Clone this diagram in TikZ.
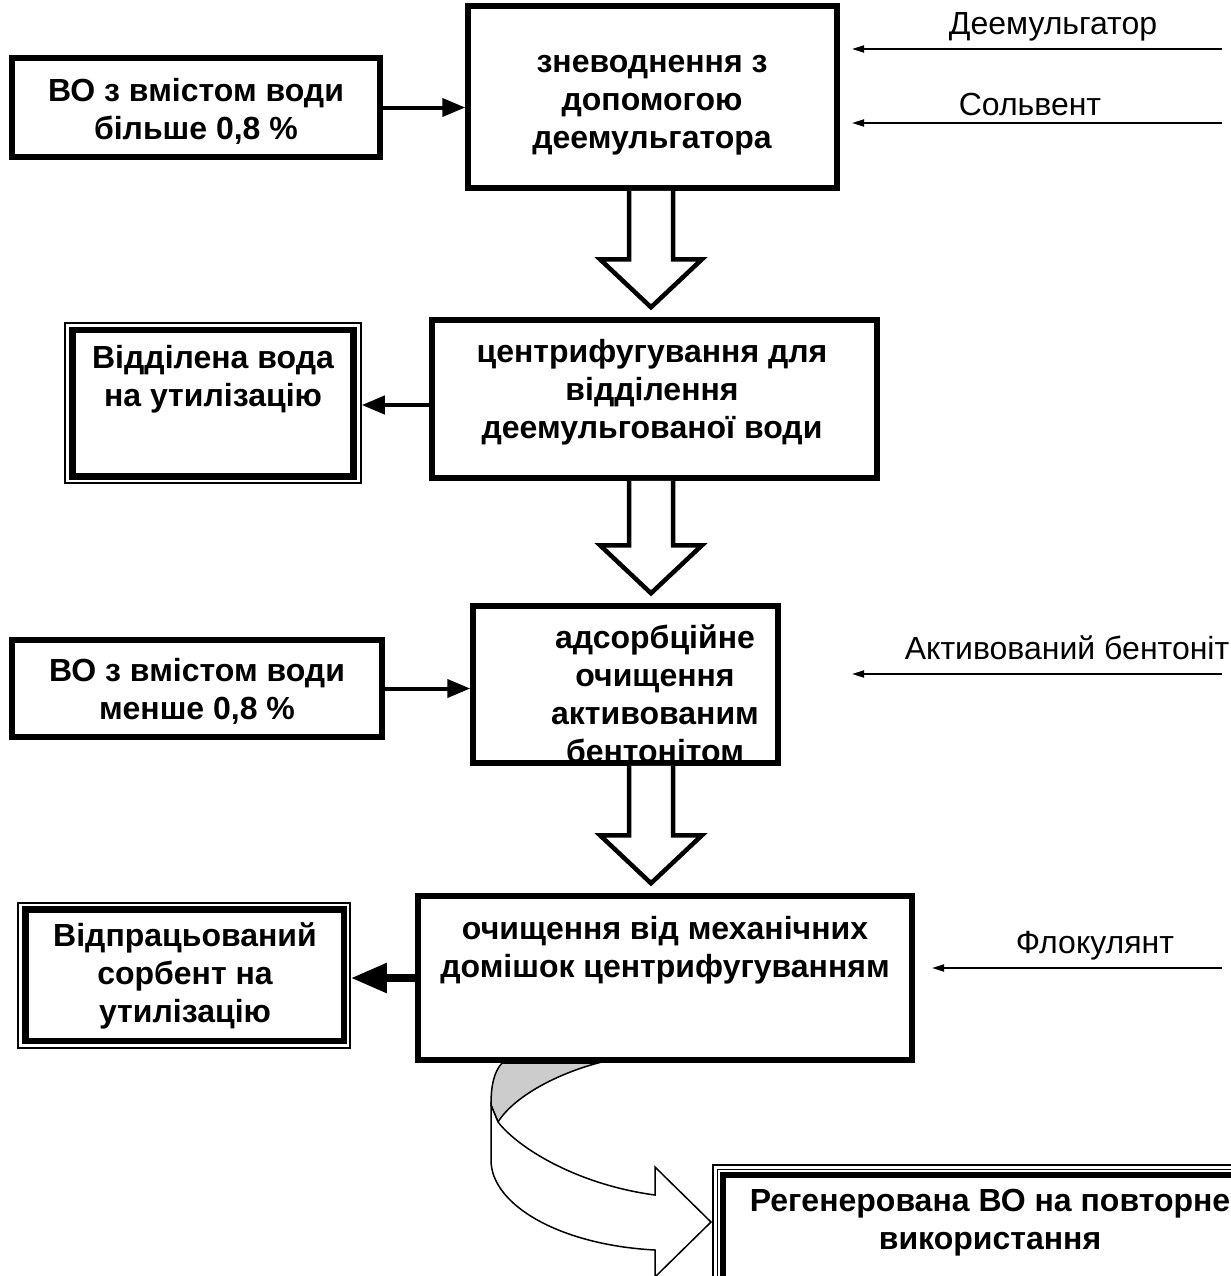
\documentclass[tikz,border=0pt]{standalone}
\usepackage{fontspec}
\setmainfont{Liberation Sans}
\usetikzlibrary{fit,calc,arrows.meta}

\tikzset{
  procbox/.style={draw, line width=2.75pt, inner sep=0pt},
  outframe/.style={draw, line width=0.75pt, inner sep=0pt},
  inframe/.style={draw, line width=3.25pt, inner sep=0pt},
  boxtext/.style={font=\bfseries\fontsize{16}{19}\selectfont, align=center, inner sep=0pt},
  feedtext/.style={font=\fontsize{16}{19}\selectfont, inner sep=0pt},
  flow/.style={-{Triangle[length=11.5pt,width=9pt]}, line width=2pt},
  bigflow/.style={-{Triangle[length=18pt,width=14pt]}, line width=4pt},
  feed/.style={-{Triangle[length=6pt,width=3.5pt]}, line width=0.9pt},
  hollow/.style={draw, fill=white, line width=2.25pt},
  ribbon/.style={draw, line width=0.75pt}
}

\begin{document}
\begin{tikzpicture}[x=0.5pt, y=-0.5pt]
	\useasboundingbox (0,0) rectangle (1231,1276);
	
	%input boxes
	\node[procbox, fit={(12,58) (380,157)}] (wetoil) {};
	\node[boxtext] (wetoiltxt) at (196,111) {ВО з вмістом води\\більше 0,8 \%};
	\node[procbox, fit={(12,640) (382,737)}] (dryoil) {};
	\node[boxtext] (dryoiltxt) at (197,691) {ВО з вмістом води\\менше 0,8 \%};
	
	%process boxes
	\node[procbox, fit={(468,6) (837,188)}] (dewater) {};
	\node[boxtext] (dewatertxt) at (652,105) {зневоднення з\\допомогою\\деемульгатора};
	\node[procbox, fit={(432,320) (877,478)}] (centrif) {};
	\node[boxtext] (centriftxt) at (652,392) {центрифугування для\\відділення\\деемульгованої води};
	\node[procbox, fit={(473,606) (778,763)}] (adsorb) {};
	\node[boxtext] (adsorbtxt) at (655,694) {адсорбційне\\очищення\\активованим\\бентонітом};
	\node[procbox, fit={(418,896) (912,1060)}] (mechcl) {};
	\node[boxtext] (mechcltxt) at (665,950) {очищення від механічних\\домішок центрифугуванням};
	
	%output boxes
	\node[outframe, fit={(65,323) (361,483)}] (waterout) {};
	\node[inframe, fit={(72.5,330) (353.5,476.5)}] (water) {};
	\node[boxtext] (watertxt) at (213,379) {Відділена вода\\на утилізацію};
	\node[outframe, fit={(18,903) (350,1048)}] (sorbout) {};
	\node[inframe, fit={(25.5,909.5) (344,1041)}] (sorb) {};
	\node[boxtext] (sorbtxt) at (185,976) {Відпрацьований\\сорбент на\\утилізацію};
	\node[draw, line width=1.25pt, inner sep=0pt, fit={(713,1165) (1268,1300)}] (regenout) {};
	\node[outframe, fit={(717.5,1169.5) (1263.5,1295.5)}] (regenmid) {};
	\node[inframe, fit={(723,1175) (1258,1290)}] (regen) {};
	\node[boxtext] (regentxt) at (990,1223) {Регенерована ВО на повторне\\використання};
	
	%reagents
	\node[feedtext] (demlbl) at (1053,27) {Деемульгатор};
	\coordinate (demsrc) at (1222,49);
	\coordinate (demend) at (852,49);
	\node[feedtext] (sollbl) at (1030,104) {Сольвент};
	\coordinate (solsrc) at (1222,123);
	\coordinate (solend) at (852,123);
	\node[feedtext] (bentlbl) at (1067,648) {Активований бентоніт};
	\coordinate (bentsrc) at (1222,674);
	\coordinate (bentend) at (852,674);
	\node[feedtext] (floclbl) at (1095,946) {Флокулянт};
	\coordinate (flocsrc) at (1222,968);
	\coordinate (flocend) at (932,968);
	
	\draw[feed] (demsrc) -- (demend);
	\draw[feed] (solsrc) -- (solend);
	\draw[feed] (bentsrc) -- (bentend);
	\draw[feed] (flocsrc) -- (flocend);
	
	\draw[flow] (wetoil.east) -- (wetoil.east -| dewater.west);
	\draw[flow] (dryoil.east) -- (dryoil.east -| adsorb.west);
	\draw[flow] ([yshift=-3pt]centrif.west) -- ([yshift=-3pt]centrif.west -| waterout.east);
	\draw[bigflow] (mechcl.west) -- (mechcl.west -| sorbout.east);
	
	%hollow arrows between the stages
	\coordinate (axis) at (651,0);
	\foreach \a/\b in {dewater/centrif, centrif/adsorb, adsorb/mechcl}
		\draw[hollow] ($(\a.south -| axis)+(-22,0)$) -- ($(\b.north -| axis)+(-22,-58)$) -- ++(-29,0)
			-- ($(\b.north -| axis)+(0,-10)$) -- ($(\b.north -| axis)+(51,-58)$) -- ++(-29,0)
			-- ($(\a.south -| axis)+(22,0)$);
	
	%curved arrow to the regenerated oil
	\draw[ribbon, fill=gray!40] (502,1063) .. controls (494,1072) and (491,1085) .. (491,1105)
		-- (498,1122) .. controls (515,1095) and (560,1073) .. (598,1063) -- cycle;
	\draw[ribbon, fill=white] (491,1105) -- (491,1160) .. controls (491,1205) and (560,1245) .. (655,1250)
		-- (655,1277) -- (711,1222) -- (655,1167) -- (655,1195)
		.. controls (580,1185) and (520,1150) .. (498,1122) -- cycle;
	
\end{tikzpicture}
\end{document}
